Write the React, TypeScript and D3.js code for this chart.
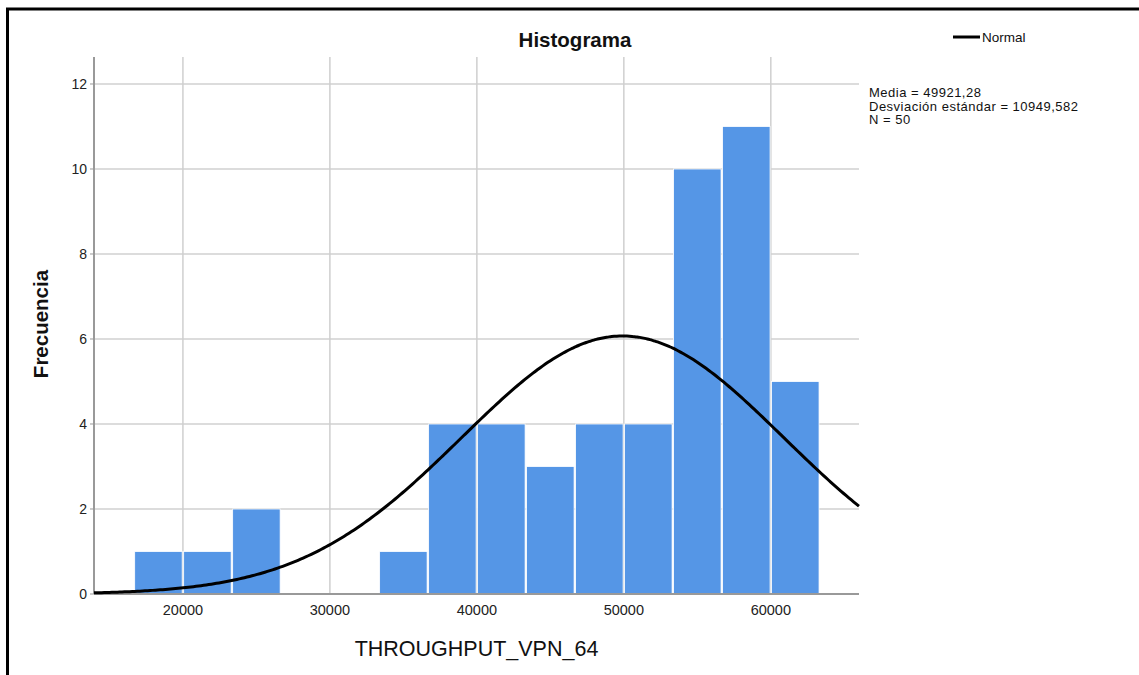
import React from "react";
import * as d3 from "d3";

const binEdges = [16667, 20000, 23333, 26667, 30000, 33333, 36667, 40000, 43333, 46667, 50000, 53333, 56667, 60000, 63333];
const counts = [1, 1, 2, 0, 0, 1, 4, 4, 3, 4, 4, 10, 11, 5];
const xTicks = [20000, 30000, 40000, 50000, 60000];
const yTicks = [0, 2, 4, 6, 8, 10, 12];
const mean = 49921.28;
const sd = 10949.582;
const n = 50;
const statLines = ["Media = 49921,28", "Desviación estándar = 10949,582", "N = 50"];

const FONT = "Arial, 'Liberation Sans', Helvetica, sans-serif";

export default function App() {
  const left = 94, right = 859, top = 57, bottom = 594;
  const x = d3.scaleLinear().domain([13950, 66000]).range([left, right]);
  const y = d3.scaleLinear().domain([0, 12.635]).range([bottom, top]);
  const binW = binEdges[1] - binEdges[0];

  const curvePts = d3.range(0, 301).map((i) => {
    const xv = 13950 + (i / 300) * (66000 - 13950);
    const z = (xv - mean) / sd;
    const yv = (n * binW) / (sd * Math.sqrt(2 * Math.PI)) * Math.exp(-0.5 * z * z);
    return [xv, yv] as [number, number];
  });
  const line = d3.line<[number, number]>().x((d) => x(d[0])).y((d) => y(d[1])).curve(d3.curveBasis);

  return (
    <svg width={1139} height={675} style={{ position: "absolute", left: 0, top: 0, background: "#fff" }} fontFamily={FONT}>
      <rect x={7.5} y={9} width={1300} height={900} fill="none" stroke="#000" strokeWidth={3} />
      {/* gridlines */}
      {yTicks.filter((t) => t > 0).map((t) => (
        <line key={"gy" + t} x1={left} x2={right} y1={y(t)} y2={y(t)} stroke="#d0d0d0" strokeWidth={1.5} />
      ))}
      {xTicks.map((t) => (
        <line key={"gx" + t} x1={x(t)} x2={x(t)} y1={top} y2={bottom} stroke="#cfcfcf" strokeWidth={1.5} />
      ))}
      {/* bars */}
      {counts.map((c, i) =>
        c > 0 ? (
          <rect
            key={"b" + i}
            x={x(binEdges[i]) + 0.75}
            y={y(c)}
            width={x(binEdges[i] + binW) - x(binEdges[i]) - 1.5}
            height={y(0) - y(c)}
            fill="#5596e6"
            stroke="#ffffff"
            strokeWidth={0.8}
          />
        ) : null
      )}
      {/* axes */}
      <line x1={left} x2={left} y1={top} y2={bottom} stroke="#999" strokeWidth={2} />
      <line x1={left} x2={right} y1={bottom} y2={bottom} stroke="#999" strokeWidth={2} />
      {yTicks.map((t) => (
        <g key={"yt" + t}>
          <line x1={left - 4} x2={left} y1={y(t)} y2={y(t)} stroke="#999" strokeWidth={1} />
          <text x={87} y={y(t)} dy="0.36em" textAnchor="end" fontSize={14} fill="#222">{t}</text>
        </g>
      ))}
      {xTicks.map((t) => (
        <text key={"xt" + t} x={x(t)} y={615} textAnchor="middle" fontSize={14.5} fill="#222">{t}</text>
      ))}
      {/* normal curve */}
      <path d={line(curvePts) || ""} fill="none" stroke="#000" strokeWidth={3} />
      {/* titles */}
      <text x={575} y={47} textAnchor="middle" fontSize={20.5} fontWeight="bold" fill="#111">Histograma</text>
      <text transform="translate(48,324) rotate(-90)" textAnchor="middle" fontSize={20.5} fontWeight="bold" fill="#111">Frecuencia</text>
      <text x={476.5} y={656} textAnchor="middle" fontSize={21.5} fill="#111">THROUGHPUT_VPN_64</text>
      {/* legend */}
      <line x1={953} x2={980} y1={37} y2={37} stroke="#000" strokeWidth={3} />
      <text x={982} y={41.5} fontSize={13.5} fill="#111">Normal</text>
      {statLines.map((s, i) => (
        <text key={"s" + i} x={869} y={97 + i * 13.6} fontSize={13} letterSpacing={0.5} fill="#111">{s}</text>
      ))}
    </svg>
  );
}
